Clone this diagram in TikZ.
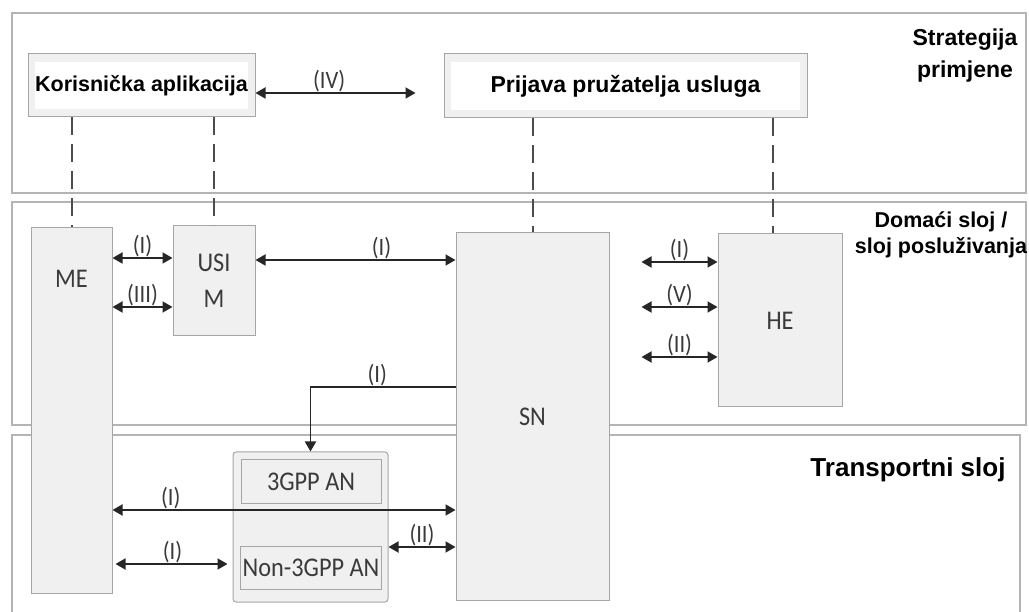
\documentclass[tikz,border=0pt]{standalone}
\usepackage{fontspec}
\setmainfont{Carlito}
\newfontfamily\headfont{Liberation Sans}
\newfontfamily\unitfont[FakeStretch=0.9]{Carlito}
\usetikzlibrary{arrows.meta}

\definecolor{boxfill}{HTML}{F0F0F0}
\definecolor{boxline}{HTML}{A6A6A6}
\definecolor{layerline}{HTML}{B4B4B4}
\definecolor{inkgray}{HTML}{3A3A3A}

\begin{document}
\begin{tikzpicture}[x=1pt,y=-1pt,
  layer/.style={draw=layerline, line width=1.8pt},
  unit/.style={draw=boxline, fill=boxfill, line width=1pt, inner sep=2pt,
               text=inkgray, font=\unitfont\fontsize{27}{32}\selectfont},
  appbox/.style={draw=boxline, fill=gray!12, line width=1pt,
                 font=\headfont\bfseries\fontsize{21.5}{26}\selectfont,
                 path picture={\fill[white]
                   ([shift={(7pt,8pt)}]path picture bounding box.south west) rectangle
                   ([shift={(-7pt,-8pt)}]path picture bounding box.north east);}},
  tag/.style={font=\headfont\bfseries\fontsize{21.5}{26}\selectfont, align=center},
  link/.style={draw=black!85, line width=1.8pt,
               arrows={Triangle[length=10pt,width=11pt]-Triangle[length=10pt,width=11pt]}},
  flow/.style={link, arrows={-Triangle[length=10pt,width=11pt]}},
  lbl/.style={above, inner sep=0.5pt, text=inkgray, font=\unitfont\fontsize{25}{28}\selectfont},
  dashline/.style={draw=black!70, line width=2pt, dash pattern=on 18pt off 9pt}]

  \useasboundingbox (0,0) rectangle (1029,612);

  % layers
  \draw[layer] (12,13) rectangle (1026,193);
  \draw[layer] (12,202) rectangle (1026,425);
  \draw[layer] (12,620) -- (12,435) -- (1020,435) -- (1020,620);

  \node[tag, font=\headfont\bfseries\fontsize{23}{32}\selectfont] (strat) at (965,56) {Strategija\\primjene};
  \node[tag] (home) at (941,235) {Domaći sloj /\\sloj posluživanja};
  \node[tag, font=\headfont\bfseries\fontsize{26}{30}\selectfont] (trans) at (908,470) {Transportni sloj};

  % blocks
  \node[appbox, minimum width=227pt, minimum height=63pt] (app) at (141.5,85.5) {Korisnička aplikacija};
  \node[appbox, minimum width=363pt, minimum height=64pt,
        font=\headfont\bfseries\fontsize{23}{28}\selectfont] (prov) at (625.5,86) {Prijava pružatelja usluga};

  \node[unit, minimum width=81pt, minimum height=365pt,
        label={[anchor=center, yshift=-51pt, text=inkgray, font=\unitfont\fontsize{27}{32}\selectfont]north:ME}] (ME) at (71.5,410.5) {};
  \node[unit, minimum width=82pt, minimum height=110pt, align=center,
        font=\unitfont\fontsize{27}{36}\selectfont] (USIM) at (214,281) {USI\\M};
  \node[unit, minimum width=153pt, minimum height=367pt] (SN) at (532.5,416.5) {SN};
  \node[unit, minimum width=124pt, minimum height=173pt] (HE) at (780,320.5) {HE};
  \node[unit, rounded corners=3pt, minimum width=155pt, minimum height=150pt] (AN) at (310.5,527) {};
  \node[unit, minimum width=140pt, minimum height=43pt] (gpp) at (311,481.5) {3GPP AN};
  \node[unit, minimum width=140pt, minimum height=43pt] (nongpp) at (311,567.5) {Non-3GPP AN};

  % dashed links between layers
  \draw[dashline] (app.south -| ME.north) -- (ME.north);
  \draw[dashline] (app.south -| USIM.north) -- (USIM.north);
  \draw[dashline] (prov.south -| SN.north) -- (SN.north);
  \draw[dashline] (prov.south -| 773,0) -- (773,0 |- HE.north);

  % interfaces
  \draw[link] (app.east |- 0,93) -- node[lbl, pos=0.46] {(IV)} ++(160,0);
  \draw[link] (ME.east |- 0,258) -- node[lbl] {(I)} (USIM.west |- 0,258);
  \draw[link] (ME.east |- 0,307) -- node[lbl] {(III)} (USIM.west |- 0,307);
  \draw[link] (USIM.east |- 0,260) -- node[lbl, pos=0.63] {(I)} (SN.west |- 0,260);
  \foreach \y/\lab in {262/(I), 307/(V), 357/(II)}
    \draw[link] ([xshift=-76pt]HE.west |- 0,\y) -- node[lbl] {\lab} (HE.west |- 0,\y);

  \draw[flow] (SN.west |- 0,387) -| node[lbl, pos=0.27] {(I)} (AN.north);
  \draw[link] (ME.east |- 0,510) -- node[lbl, pos=0.17] {(I)} (SN.west |- 0,510);
  \draw[link, shorten <=3pt, shorten >=5pt] (ME.east |- 0,564) -- node[lbl] {(I)} (AN.west |- 0,564);
  \draw[link] (AN.east |- 0,547) -- node[lbl] {(II)} (SN.west |- 0,547);

\end{tikzpicture}
\end{document}
